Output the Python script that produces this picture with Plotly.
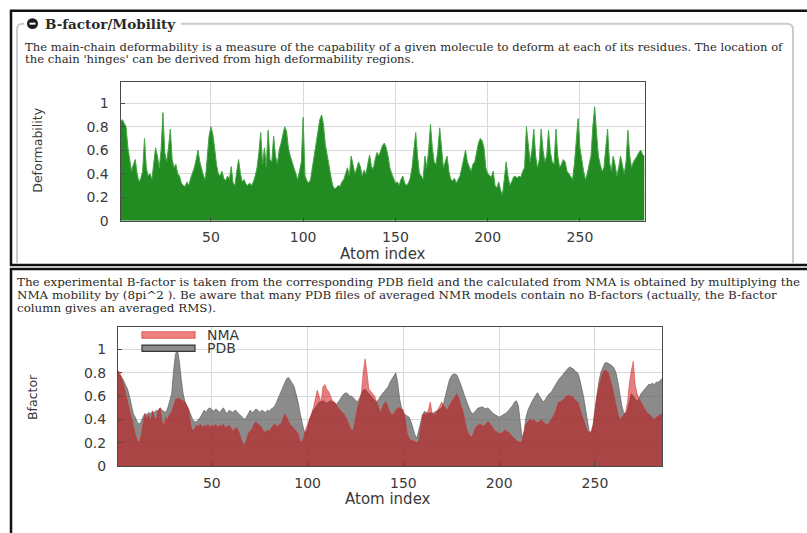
import plotly.graph_objects as go

# ---------------------------------------------------------------- data
atom_index = list(range(1, 286))

deformability = [
    0.84, 0.86, 0.83, 0.80, 0.62, 0.50, 0.42, 0.48, 0.52, 0.40,
    0.33, 0.36, 0.42, 0.70, 0.45, 0.38, 0.40, 0.35, 0.48, 0.62,
    0.55, 0.45, 0.60, 0.92, 0.58, 0.50, 0.62, 0.78, 0.52, 0.45,
    0.48, 0.40, 0.38, 0.32, 0.30, 0.29, 0.33, 0.30, 0.36, 0.40,
    0.45, 0.52, 0.60, 0.50, 0.44, 0.38, 0.35, 0.55, 0.72, 0.80,
    0.74, 0.62, 0.48, 0.40, 0.38, 0.42, 0.36, 0.34, 0.38, 0.35,
    0.46, 0.32, 0.30, 0.42, 0.52, 0.40, 0.33, 0.35, 0.31, 0.30,
    0.32, 0.30, 0.33, 0.38, 0.45, 0.58, 0.75, 0.48, 0.62, 0.46,
    0.77, 0.52, 0.50, 0.72, 0.55, 0.48, 0.60, 0.66, 0.72, 0.80,
    0.76, 0.62, 0.55, 0.50, 0.45, 0.40, 0.35, 0.42, 0.50, 0.88,
    0.38, 0.34, 0.32, 0.35, 0.45, 0.55, 0.62, 0.75, 0.86, 0.90,
    0.82, 0.65, 0.55, 0.45, 0.38, 0.30, 0.27, 0.28, 0.30, 0.29,
    0.33, 0.35, 0.40, 0.45, 0.38, 0.55, 0.48, 0.40, 0.44, 0.50,
    0.46, 0.38, 0.43, 0.40, 0.48, 0.56, 0.46, 0.44, 0.52, 0.58,
    0.55, 0.60, 0.64, 0.66, 0.62, 0.55, 0.45, 0.40, 0.35, 0.32,
    0.33, 0.30, 0.35, 0.38, 0.32, 0.30, 0.32, 0.36, 0.45, 0.62,
    0.75, 0.55, 0.40, 0.38, 0.35, 0.55, 0.45, 0.60, 0.82, 0.62,
    0.50, 0.48, 0.60, 0.79, 0.62, 0.45, 0.50, 0.55, 0.42, 0.35,
    0.34, 0.36, 0.32, 0.35, 0.38, 0.45, 0.52, 0.60, 0.50, 0.45,
    0.42, 0.48, 0.50, 0.58, 0.66, 0.70, 0.68, 0.62, 0.45, 0.40,
    0.38, 0.37, 0.42, 0.30, 0.28, 0.33, 0.26, 0.22, 0.35, 0.50,
    0.38, 0.30, 0.33, 0.37, 0.38, 0.36, 0.38, 0.37, 0.42, 0.45,
    0.80, 0.62, 0.50, 0.60, 0.78, 0.55, 0.45, 0.52, 0.78, 0.60,
    0.50, 0.55, 0.77, 0.58, 0.50, 0.48, 0.78, 0.55, 0.45, 0.48,
    0.52, 0.50, 0.42, 0.40, 0.38, 0.35, 0.48, 0.70, 0.87, 0.62,
    0.50, 0.42, 0.35, 0.40, 0.48, 0.55, 0.80, 0.97, 0.75, 0.55,
    0.48, 0.42, 0.45, 0.60, 0.78, 0.50, 0.42, 0.55, 0.48, 0.38,
    0.45, 0.55, 0.48, 0.40, 0.50, 0.77, 0.55, 0.45, 0.50, 0.52,
    0.55, 0.58, 0.60, 0.56, 0.55,
]

bfactor_pdb = [
    0.80, 0.78, 0.76, 0.73, 0.70, 0.66, 0.60, 0.52, 0.45, 0.42,
    0.38, 0.36, 0.38, 0.42, 0.45, 0.44, 0.46, 0.45, 0.47, 0.46,
    0.48, 0.47, 0.50, 0.48, 0.47, 0.46, 0.50, 0.55, 0.62, 0.82,
    0.96, 1.00, 0.90, 0.75, 0.62, 0.55, 0.52, 0.48, 0.44, 0.40,
    0.38, 0.38, 0.40, 0.42, 0.45, 0.48, 0.46, 0.49, 0.50, 0.48,
    0.47, 0.49, 0.48, 0.46, 0.48, 0.50, 0.47, 0.45, 0.48, 0.47,
    0.46, 0.48, 0.47, 0.45, 0.43, 0.42, 0.40, 0.42, 0.45, 0.48,
    0.46, 0.47, 0.49, 0.48, 0.46, 0.48, 0.47, 0.46, 0.48, 0.47,
    0.49, 0.50, 0.52, 0.56, 0.60, 0.64, 0.68, 0.72, 0.75, 0.76,
    0.74, 0.71, 0.68, 0.62, 0.55, 0.46, 0.38, 0.31, 0.28, 0.32,
    0.40, 0.45, 0.48, 0.50, 0.52, 0.55, 0.55, 0.56, 0.55, 0.54,
    0.55, 0.56, 0.55, 0.54, 0.53, 0.55, 0.58, 0.60, 0.62, 0.63,
    0.62, 0.60, 0.60, 0.58, 0.56, 0.55, 0.58, 0.62, 0.65, 0.66,
    0.64, 0.62, 0.60, 0.58, 0.56, 0.55, 0.57, 0.60, 0.62, 0.64,
    0.66, 0.68, 0.72, 0.75, 0.78, 0.80, 0.72, 0.58, 0.50, 0.46,
    0.44, 0.43, 0.42, 0.38, 0.32, 0.27, 0.24, 0.30, 0.38, 0.44,
    0.47, 0.46, 0.45, 0.46, 0.45, 0.46, 0.47, 0.48, 0.49, 0.50,
    0.54, 0.60, 0.68, 0.74, 0.77, 0.79, 0.79, 0.78, 0.74, 0.70,
    0.65, 0.60, 0.55, 0.50, 0.47, 0.45, 0.46, 0.48, 0.50, 0.50,
    0.51, 0.50, 0.49, 0.50, 0.48, 0.46, 0.45, 0.44, 0.43, 0.42,
    0.43, 0.44, 0.45, 0.46, 0.48, 0.50, 0.52, 0.55, 0.56, 0.52,
    0.38, 0.24, 0.30, 0.42, 0.48, 0.52, 0.55, 0.58, 0.61, 0.63,
    0.60, 0.57, 0.55, 0.57, 0.60, 0.62, 0.63, 0.66, 0.68, 0.71,
    0.74, 0.76, 0.78, 0.80, 0.82, 0.84, 0.85, 0.84, 0.83, 0.81,
    0.80, 0.75, 0.68, 0.60, 0.50, 0.40, 0.30, 0.27, 0.35, 0.48,
    0.62, 0.72, 0.80, 0.85, 0.88, 0.89, 0.88, 0.87, 0.86, 0.84,
    0.80, 0.72, 0.62, 0.52, 0.46, 0.45, 0.48, 0.55, 0.62, 0.60,
    0.57, 0.55, 0.58, 0.62, 0.64, 0.66, 0.68, 0.70, 0.70, 0.71,
    0.70, 0.72, 0.72, 0.74, 0.75,
]

bfactor_nma = [
    0.82, 0.80, 0.75, 0.70, 0.62, 0.55, 0.48, 0.40, 0.35, 0.28,
    0.22, 0.20, 0.26, 0.35, 0.45, 0.40, 0.44, 0.38, 0.47, 0.42,
    0.40, 0.48, 0.50, 0.38, 0.35, 0.42, 0.40, 0.45, 0.46, 0.52,
    0.57, 0.58, 0.58, 0.57, 0.56, 0.55, 0.52, 0.48, 0.35, 0.30,
    0.32, 0.35, 0.34, 0.36, 0.33, 0.35, 0.34, 0.36, 0.33, 0.35,
    0.34, 0.36, 0.33, 0.35, 0.34, 0.36, 0.33, 0.34, 0.35, 0.33,
    0.30, 0.32, 0.33, 0.30, 0.25, 0.20, 0.18, 0.22, 0.28, 0.30,
    0.32, 0.36, 0.38, 0.36, 0.35, 0.33, 0.30, 0.29, 0.31, 0.30,
    0.33, 0.35, 0.36, 0.34, 0.35, 0.36, 0.40, 0.45, 0.42, 0.38,
    0.35, 0.34, 0.32, 0.30, 0.28, 0.22, 0.20, 0.25, 0.32, 0.36,
    0.40, 0.45, 0.50, 0.58, 0.65, 0.60, 0.55, 0.68, 0.70, 0.66,
    0.64, 0.60, 0.56, 0.55, 0.52, 0.50, 0.48, 0.46, 0.45, 0.42,
    0.38, 0.34, 0.30, 0.32, 0.42, 0.50, 0.55, 0.62, 0.80, 0.92,
    0.80, 0.66, 0.64, 0.62, 0.60, 0.55, 0.50, 0.46, 0.50, 0.54,
    0.55, 0.50, 0.46, 0.44, 0.45, 0.48, 0.50, 0.50, 0.49, 0.48,
    0.40, 0.28, 0.24, 0.22, 0.22, 0.21, 0.20, 0.22, 0.35, 0.44,
    0.45, 0.44, 0.48, 0.55, 0.46, 0.44, 0.45, 0.48, 0.52, 0.55,
    0.52, 0.50, 0.48, 0.52, 0.55, 0.58, 0.60, 0.62, 0.58, 0.52,
    0.48, 0.40, 0.32, 0.28, 0.25, 0.26, 0.30, 0.34, 0.35, 0.36,
    0.35, 0.34, 0.36, 0.38, 0.37, 0.34, 0.32, 0.30, 0.29, 0.28,
    0.28, 0.30, 0.31, 0.30, 0.29, 0.27, 0.25, 0.24, 0.22, 0.21,
    0.20, 0.22, 0.30, 0.36, 0.38, 0.40, 0.39, 0.40, 0.38, 0.37,
    0.38, 0.40, 0.38, 0.36, 0.35, 0.37, 0.40, 0.42, 0.45, 0.50,
    0.55, 0.55, 0.57, 0.58, 0.60, 0.61, 0.60, 0.60, 0.58, 0.56,
    0.55, 0.50, 0.45, 0.40, 0.35, 0.30, 0.29, 0.30, 0.35, 0.48,
    0.60, 0.68, 0.75, 0.80, 0.82, 0.82, 0.80, 0.75, 0.68, 0.60,
    0.52, 0.45, 0.40, 0.42, 0.44, 0.46, 0.55, 0.72, 0.82, 0.90,
    0.70, 0.62, 0.58, 0.55, 0.52, 0.48, 0.46, 0.45, 0.43, 0.42,
    0.40, 0.42, 0.43, 0.44, 0.45,
]

x_ticks = [50, 100, 150, 200, 250]
y_ticks = [0, 0.2, 0.4, 0.6, 0.8, 1.0]
y_tick_labels = ["0", "0.2", "0.4", "0.6", "0.8", "1"]
series_names = ["NMA", "PDB"]

section_title = "B-factor/Mobility"
deform_text = [
    "The main-chain deformability is a measure of the capability of a given molecule to deform at each of its residues. The location of",
    "the chain 'hinges' can be derived from high deformability regions.",
]
bfactor_text = [
    "The experimental B-factor is taken from the corresponding PDB field and the calculated from NMA is obtained by multiplying the",
    "NMA mobility by (8pi^2 ). Be aware that many PDB files of averaged NMR models contain no B-factors (actually, the B-factor",
    "column gives an averaged RMS).",
]

# ---------------------------------------------------------------- page geometry
W, H = 807, 533


def fx(p):
    return p / W


def fy(p):
    return 1 - p / H


AXIS_FONT = dict(family="DejaVu Sans", size=14, color="#3a3a3a")
TEXT_FONT = dict(family="DejaVu Serif", size=11.6, color="#2a2a2a")

GREEN_FILL = "rgb(34,139,34)"
GREEN_EDGE = "rgb(70,165,70)"
PDB_FILL = "rgba(100,100,100,0.75)"
PDB_EDGE = "rgba(90,90,90,0.8)"
NMA_FILL = "rgba(200,0,0,0.5)"
NMA_EDGE = "rgba(220,40,40,0.6)"

fig = go.Figure()

fig.add_trace(go.Scatter(
    x=atom_index, y=deformability, mode="lines", fill="tozeroy",
    fillcolor=GREEN_FILL, line=dict(color=GREEN_EDGE, width=1),
    xaxis="x", yaxis="y", showlegend=False, hoverinfo="skip",
))
fig.add_trace(go.Scatter(
    x=atom_index, y=bfactor_pdb, mode="lines", fill="tozeroy",
    fillcolor=PDB_FILL, line=dict(color=PDB_EDGE, width=0.8),
    xaxis="x2", yaxis="y2", showlegend=False, name=series_names[1],
))
fig.add_trace(go.Scatter(
    x=atom_index, y=bfactor_nma, mode="lines", fill="tozeroy",
    fillcolor=NMA_FILL, line=dict(color=NMA_EDGE, width=0.8),
    xaxis="x2", yaxis="y2", showlegend=False, name=series_names[0],
))


def x_axis(domain, anchor):
    return dict(
        domain=domain, anchor=anchor, range=[1, 285],
        tickmode="array", tickvals=x_ticks, ticktext=[str(v) for v in x_ticks],
        showgrid=True, gridcolor="#d9d9d9", gridwidth=1, zeroline=False,
        showline=True, mirror=True, linecolor="#4a4a4a", linewidth=1,
        ticks="inside", ticklen=4, tickcolor="#4a4a4a",
        tickfont=AXIS_FONT, ticklabelstandoff=4, layer="above traces",
    )


def y_axis(domain, anchor, top):
    return dict(
        domain=domain, anchor=anchor, range=[0, top],
        tickmode="array", tickvals=y_ticks, ticktext=y_tick_labels,
        showgrid=True, gridcolor="#d9d9d9", gridwidth=1, zeroline=False,
        showline=True, mirror=True, linecolor="#4a4a4a", linewidth=1,
        ticks="inside", ticklen=4, tickcolor="#4a4a4a",
        tickfont=AXIS_FONT, ticklabelstandoff=8, layer="above traces",
    )


shapes = []
annotations = []

# outer window frames
shapes.append(dict(type="rect", xref="paper", yref="paper",
                   x0=fx(11), x1=fx(830), y0=fy(11), y1=fy(269),
                   line=dict(color="#111", width=2.5)))
shapes.append(dict(type="rect", xref="paper", yref="paper",
                   x0=fx(11), x1=fx(830), y0=fy(273), y1=fy(560),
                   line=dict(color="#111", width=2.5)))

# fieldset border around the mobility section
fs_path = (
    f"M {fx(17)},{fy(267)} L {fx(17)},{fy(30)} Q {fx(17)},{fy(24)} {fx(23)},{fy(24)} L {fx(24)},{fy(24)} "
    f"M {fx(181)},{fy(24)} L {fx(787)},{fy(24)} Q {fx(793)},{fy(24)} {fx(793)},{fy(30)} L {fx(793)},{fy(267)}"
)
shapes.append(dict(type="path", xref="paper", yref="paper", path=fs_path,
                   line=dict(color="#c5ccd4", width=2)))

# collapse icon next to the section title
shapes.append(dict(type="circle", xref="paper", yref="paper",
                   x0=fx(27), x1=fx(38), y0=fy(18.5), y1=fy(29.5),
                   fillcolor="#1a1a1a", line=dict(color="#1a1a1a", width=0)))
shapes.append(dict(type="line", xref="paper", yref="paper",
                   x0=fx(29.5), x1=fx(35.5), y0=fy(24), y1=fy(24),
                   line=dict(color="white", width=2)))

annotations.append(dict(xref="paper", yref="paper", x=fx(43), y=fy(24),
                        xanchor="left", yanchor="middle", showarrow=False,
                        text=f"<b>{section_title}</b>",
                        font=dict(family="DejaVu Serif", size=13.5, color="#2a2a2a")))

for i, line in enumerate(deform_text):
    annotations.append(dict(xref="paper", yref="paper", x=fx(23), y=fy(48 + 12 * i),
                            xanchor="left", yanchor="middle", showarrow=False,
                            text=line, font=TEXT_FONT))
for i, line in enumerate(bfactor_text):
    annotations.append(dict(xref="paper", yref="paper", x=fx(15), y=fy(286 + 13.5 * i),
                            xanchor="left", yanchor="middle", showarrow=False,
                            text=line, font=dict(TEXT_FONT, size=11.9)))

# axis titles
TITLE_FONT = dict(family="DejaVu Sans", size=15, color="#3a3a3a")
annotations.append(dict(xref="paper", yref="paper", x=fx(38), y=fy(153),
                        xanchor="center", yanchor="middle", showarrow=False,
                        textangle=-90, text="Deformability",
                        font=dict(TITLE_FONT, size=12.5)))
annotations.append(dict(xref="paper", yref="paper", x=fx(383), y=fy(258),
                        xanchor="center", yanchor="middle", showarrow=False,
                        text="Atom index", font=TITLE_FONT))
annotations.append(dict(xref="paper", yref="paper", x=fx(33), y=fy(403),
                        xanchor="center", yanchor="middle", showarrow=False,
                        textangle=-90, text="Bfactor",
                        font=dict(TITLE_FONT, size=12.5)))
annotations.append(dict(xref="paper", yref="paper", x=fx(388), y=fy(507),
                        xanchor="center", yanchor="middle", showarrow=False,
                        text="Atom index", font=TITLE_FONT))

# key for the B-factor panel
key_fills = ["rgb(240,128,128)", "rgb(140,140,140)"]
key_edges = ["rgb(225,95,95)", "rgb(55,55,55)"]
for i, name in enumerate(series_names):
    yc = 340 + 13.5 * i
    shapes.append(dict(type="rect", xref="paper", yref="paper",
                       x0=fx(142), x1=fx(195), y0=fy(yc - 3.2), y1=fy(yc + 3.2),
                       fillcolor=key_fills[i], line=dict(color=key_edges[i], width=1.2)))
    annotations.append(dict(xref="paper", yref="paper", x=fx(205), y=fy(yc),
                            xanchor="left", yanchor="middle", showarrow=False,
                            text=name, font=dict(family="DejaVu Sans", size=14, color="#3a3a3a")))

fig.update_layout(
    width=W, height=H,
    margin=dict(l=0, r=0, t=0, b=0),
    paper_bgcolor="white", plot_bgcolor="white",
    xaxis=x_axis([fx(120.5), fx(644.5)], "y"),
    yaxis=y_axis([fy(224), fy(83.3)], "x", 1.18),
    xaxis2=x_axis([fx(118), fx(662)], "y2"),
    yaxis2=y_axis([fy(473.3), fy(332.3)], "x2", 1.19),
    shapes=shapes,
    annotations=annotations,
)

fig.write_html("out.html")
